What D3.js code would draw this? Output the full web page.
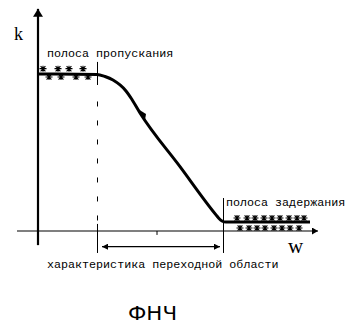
<!DOCTYPE html>
<html>
<head>
<meta charset="utf-8">
<script src="https://cdn.jsdelivr.net/npm/d3@7"></script>
<style>
  html, body { margin: 0; padding: 0; background: #fff; }
  svg { display: block; }
</style>
</head>
<body>
<svg id="chart" width="353" height="330"></svg>
<script>
// ---- data ----
// frequency response of a low-pass filter (w, k)
const curveW = [0, 2.95, 3.35, 3.75, 4.1, 4.4, 4.65, 5.1, 7.1, 8.9, 9.05, 9.2, 9.4, 13.6];
const curveK = [1.0, 0.997, 0.984, 0.962, 0.930, 0.892, 0.847, 0.752, 0.410, 0.103, 0.080, 0.064, 0.057, 0.057];
const passEdge = 2.95;      // end of passband
const stopEdge = 9.25;      // start of stopband
const midTick = 5.95;       // tick mark on w axis
const passNoiseUpW = [0.25, 1.0, 1.55, 2.25];
const passNoiseLowW = [0.55, 1.15, 1.9, 2.5];
const passNoiseUpK = 1.034, passNoiseLowK = 0.981;
const stopNoiseUpW = [9.95, 10.45, 10.85, 11.3, 11.7, 12.1, 12.55, 12.95, 13.3];
const stopNoiseLowW = [10.1, 10.55, 10.95, 11.35, 11.8, 12.2, 12.6, 13.05];
const stopNoiseUpK = 0.083, stopNoiseLowK = 0.019;
const labelPass = "полоса пропускания";
const labelStop = "полоса задержания";
const labelTrans = "характеристика переходной области";
const labelY = "k";
const labelX = "w";
const title = "ФНЧ";

// ---- scales ----
const x = d3.scaleLinear().domain([0, 14]).range([38, 318]);
const y = d3.scaleLinear().domain([0, 1]).range([231, 74]);

const svg = d3.select("#chart");

// arrow markers
const defs = svg.append("defs");
function arrow(id, w, h) {
  defs.append("marker").attr("id", id)
    .attr("viewBox", `0 ${-h} ${w} ${2*h}`).attr("refX", w).attr("refY", 0)
    .attr("markerWidth", w).attr("markerHeight", 2*h)
    .attr("markerUnits", "userSpaceOnUse").attr("orient", "auto-start-reverse")
    .append("path").attr("d", `M0,${-h}L${w},0L0,${h}Z`).attr("fill", "#000");
}
arrow("arrY", 8, 5);
arrow("arrX", 6, 3.5);
arrow("arrD", 6, 3);

// x axis (w)
svg.append("line")
  .attr("x1", x(-1.05)).attr("x2", x(14))
  .attr("y1", y(0)).attr("y2", y(0))
  .attr("stroke", "#000").attr("stroke-width", 1.2)
  .attr("marker-end", "url(#arrX)");

// y axis (k)
svg.append("line")
  .attr("x1", x(0)).attr("x2", x(0))
  .attr("y1", y(-0.09)).attr("y2", y(1.415))
  .attr("stroke", "#000").attr("stroke-width", 2.2)
  .attr("marker-end", "url(#arrY)");

// small tick on x axis
svg.append("line")
  .attr("x1", x(midTick)).attr("x2", x(midTick))
  .attr("y1", y(0)).attr("y2", y(-0.025))
  .attr("stroke", "#000").attr("stroke-width", 1);

// passband edge line: solid top, dashed middle, solid bottom
const xp = Math.round(x(passEdge)) + 0.5;
svg.append("line").attr("x1", xp).attr("x2", xp)
  .attr("y1", y(1.077)).attr("y2", y(0.93))
  .attr("stroke", "#000").attr("stroke-width", 1);
svg.append("line").attr("x1", xp).attr("x2", xp)
  .attr("y1", y(0.825)).attr("y2", y(0.045))
  .attr("stroke", "#000").attr("stroke-width", 1)
  .attr("stroke-dasharray", "5,14");
svg.append("line").attr("x1", xp).attr("x2", xp)
  .attr("y1", y(0.045)).attr("y2", y(-0.14))
  .attr("stroke", "#000").attr("stroke-width", 1);

// stopband edge line
const xs = Math.round(x(stopEdge)) + 0.5;
svg.append("line").attr("x1", xs).attr("x2", xs)
  .attr("y1", y(0.21)).attr("y2", y(-0.14))
  .attr("stroke", "#000").attr("stroke-width", 1);

// transition double arrow
svg.append("line")
  .attr("x1", x(passEdge) + 5).attr("x2", x(stopEdge) - 3)
  .attr("y1", y(-0.1)).attr("y2", y(-0.1))
  .attr("stroke", "#000").attr("stroke-width", 1.2)
  .attr("marker-start", "url(#arrD)").attr("marker-end", "url(#arrD)");

// response curve
const pts = curveW.map((w, i) => [w, curveK[i]]);
const line = d3.line().x(d => x(d[0])).y(d => y(d[1])).curve(d3.curveMonotoneX);
svg.append("path").datum(pts).attr("d", line)
  .attr("fill", "none").attr("stroke", "#000").attr("stroke-width", 3)
  .attr("stroke-linejoin", "round");

// small barb on the slope
const bw = 5.15, bk = 0.745;
const bx = x(bw), by = y(bk);
svg.append("path")
  .attr("d", `M${bx - 3},${by - 5}L${bx + 4},${by + 6}L${bx + 5},${by}Z`)
  .attr("fill", "#000");

// noise marks (asterisks)
const starPath = "M-3.5,0H3.5M-2.4,-2.6L2.4,2.6M2.4,-2.6L-2.4,2.6M0,-3V3";
function stars(ws, k) {
  svg.append("g").selectAll("path").data(ws).join("path")
    .attr("transform", w => `translate(${x(w)},${y(k)})`)
    .attr("d", starPath)
    .attr("stroke", "#000").attr("stroke-width", 1.1).attr("fill", "none");
}
stars(passNoiseUpW, passNoiseUpK);
stars(passNoiseLowW, passNoiseLowK);
stars(stopNoiseUpW, stopNoiseUpK);
stars(stopNoiseLowW, stopNoiseLowK);

// texts
const mono = "'Liberation Mono', 'DejaVu Sans Mono', monospace";
svg.append("text").attr("x", 47).attr("y", 57)
  .attr("font-family", mono).attr("font-size", 11.7).text(labelPass);
svg.append("text").attr("x", 226).attr("y", 206)
  .attr("font-family", mono).attr("font-size", 11.7).text(labelStop);
svg.append("text").attr("x", 47).attr("y", 268)
  .attr("font-family", mono).attr("font-size", 11.7).text(labelTrans);

svg.append("text").attr("x", 14).attr("y", 40)
  .attr("font-family", "'Liberation Serif', serif").attr("font-size", 18)
  .attr("font-weight", "normal").text(labelY);
svg.append("text").attr("x", 288).attr("y", 253)
  .attr("font-family", "'Liberation Serif', serif").attr("font-size", 21)
  .attr("font-weight", "normal").text(labelX);

svg.append("text").attr("x", 128).attr("y", 320)
  .attr("font-family", "'DejaVu Sans', sans-serif").attr("font-size", 20)
  .attr("textLength", 49).attr("lengthAdjust", "spacingAndGlyphs").text(title);
</script>
</body>
</html>
